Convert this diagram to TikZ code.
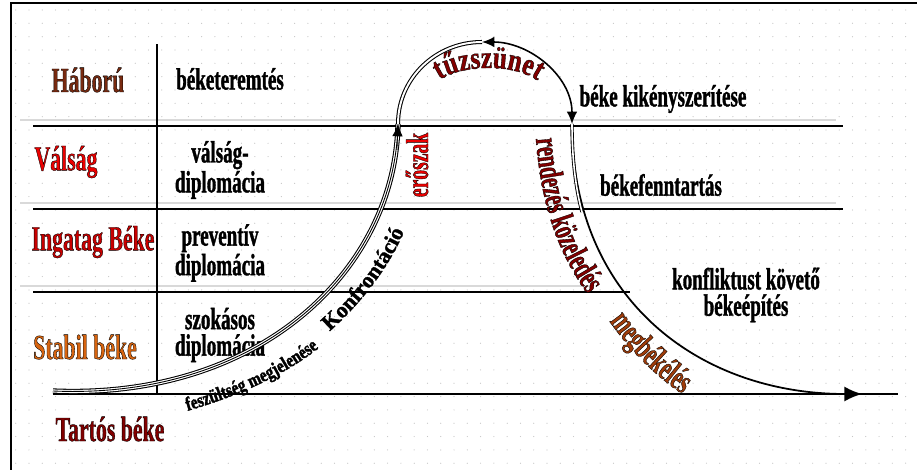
\documentclass[tikz,border=0pt]{standalone}
\usepackage{fontspec}
\setmainfont{Liberation Serif}
\newfontfamily\szuk{Liberation Serif}[FakeStretch=0.62]
\newfontfamily\kozep{Liberation Serif}[FakeStretch=0.8]
\usetikzlibrary{arrows.meta,decorations.text}
\definecolor{barna}{RGB}{120,42,16}
\definecolor{piros}{RGB}{235,0,0}
\definecolor{melypiros}{RGB}{200,0,0}
\definecolor{sotetpiros}{RGB}{130,0,0}
\definecolor{narancs}{RGB}{215,100,15}
\definecolor{rozsda}{RGB}{160,60,10}
% korvonalas betuk: kitoltes + fekete szegely
\newcommand\kv{\special{pdf:literal direct 2 Tr 0.2 w 0 0 0 RG}}

\begin{document}
\begin{tikzpicture}[x=0.02cm, y=-0.02cm,
    szint/.style={font=\szuk\bfseries\fontsize{20}{22}\selectfont},
    modszer/.style={font=\szuk\bfseries\fontsize{17.5}{15}\selectfont, align=center},
    hegy/.style={-{Latex[length=7pt,width=6pt]}}]
  \useasboundingbox (0,0) rectangle (917,470);

  % Pontracs a hatterben
  \foreach \j in {0,...,34}
    \draw[gray!45, line width=0.7pt, line cap=round, dash pattern=on 0pt off 7.56pt]
      (15.7,10+13.33*\j) -- (917,10+13.33*\j);

  % Keret
  \draw[line width=0.8pt] (11,470) -- (11,3) -- (917,3);

  % Szintvonalak, folottuk halvany arnyek
  \draw[gray!30, line width=1.6pt] (20,120) -- (836,120) (20,203) -- (836,203) (20,286) -- (590,286);
  \draw[line width=1.1pt] (33,126) -- (843,126);
  \draw[line width=1pt] (33,209) -- (843,209);
  \draw[line width=0.8pt] (33,292) -- (630,292);
  \draw[line width=1.1pt] (53,394) -- (898,394);
  \draw[line width=0.8pt] (157,44) -- (157,394);

  % Szintek
  \node[szint, text=barna] (haboru) at (88,80) {\kv Háború};
  \node[szint, text=piros] (valsag) at (66,162) {\kv Válság};
  \node[szint, text=melypiros] (ingatag) at (93,242) {\kv Ingatag Béke};
  \node[szint, text=narancs] (stabil) at (85,347) {\kv Stabil béke};
  \node[szint, text=sotetpiros] (tartos) at (110,429) {\kv Tartós béke};

  % Eszkozok
  \node[modszer] (beketeremtes) at (230,79) {\kv béketeremtés};
  \node[modszer] (valsagdipl) at (220,170) {\kv válság-\\diplomácia};
  \node[modszer] (preventiv) at (220,253) {\kv preventív\\diplomácia};
  \node[modszer] (szokasos) at (220,335) {\kv szokásos\\diplomácia};
  \node[modszer] (kikenyszerites) at (663,99) {\kv béke kikényszerítése};
  \node[modszer] (fenntartas) at (661,185) {\kv békefenntartás};
  \node[modszer] (bekeepites) at (746,295) {\kv konfliktust követő\\békeépítés};

  % Gorbe pontjai
  \coordinate (kezdet) at (53,391);
  \coordinate (fel) at (398,124);
  \coordinate (csucs) at (482,42);
  \coordinate (le) at (572,124);
  \coordinate (veg) at (862,394);

  % Felfele ag (harmas vonal)
  \draw[line width=0.5pt, preaction={draw, line width=3pt}, preaction={draw, white, line width=1.8pt}]
    (kezdet) .. controls (260,400) and (395,270) .. (fel);
  \draw[hegy] (397,150) -- (fel);
  % Csucs
  \draw[double, double distance=1.1pt, line width=0.6pt] (fel) to[out=90, in=180] (csucs);
  \draw[{Latex[length=7pt,width=6pt]}-{Latex[length=7pt,width=6pt]}, line width=0.9pt]
    (csucs) to[out=0, in=90] (le);
  % Lefele ag, eleje kettos
  \draw[-{Latex[length=10pt,width=8.5pt]}, line width=1pt]
    (le) .. controls (572,300) and (700,394) .. (veg);
  \draw[double, double distance=0.9pt, line width=0.5pt]
    (le) .. controls (572,160) and (576,190) .. (582,212);

  % Feliratok a gorbe menten
  \path[decorate, decoration={text along path, text align=center,
      text={|\kozep\bfseries\fontsize{11}{11}\selectfont\kv|feszültség megjelenése}}]
    (180,413) .. controls (230,399) and (283,378) .. (325,343);
  \path[decorate, decoration={text along path, text align=center,
      text={|\bfseries\fontsize{12.5}{12.5}\selectfont\kv|Konfrontáció}}]
    (322,338) .. controls (355,310) and (390,270) .. (408,222);
  \node[rotate=90, anchor=base, text=piros, font=\szuk\bfseries\fontsize{18}{18}\selectfont]
    (eroszak) at (428,165) {\kv erőszak};
  \path[decorate, decoration={text along path, text align=center,
      text={|\kozep\bfseries\fontsize{18}{18}\selectfont\color{sotetpiros}\kv|tűzszünet}}]
    (430,92) .. controls (440,62) and (530,58) .. (548,92);
  \path[decorate, decoration={text along path, text align=center,
      text={|\szuk\bfseries\fontsize{19}{19}\selectfont\color{sotetpiros}\kv|rendezés közeledés}}]
    (535,125) .. controls (539,200) and (556,255) .. (596,305);
  \path[decorate, decoration={text along path, text align=center,
      text={|\szuk\bfseries\fontsize{19.5}{19.5}\selectfont\color{rozsda}\kv|megbékélés}}]
    (603,312) .. controls (625,345) and (655,378) .. (692,400);
\end{tikzpicture}
\end{document}
